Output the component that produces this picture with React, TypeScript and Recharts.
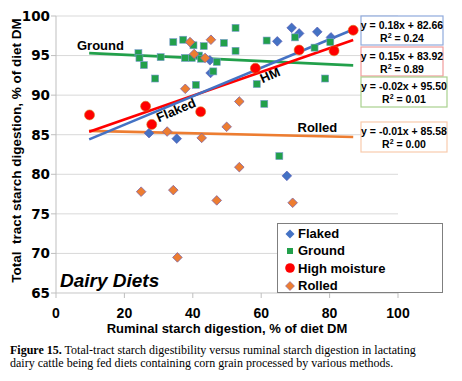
import React from 'react';
import {
  ScatterChart,
  Scatter,
  XAxis,
  YAxis,
  CartesianGrid,
  ReferenceLine,
  Legend,
  Customized,
} from 'recharts';

// ---- data ----
const flakedX = [27.2, 35.3, 45.0, 45.2, 64.7, 67.5, 68.9, 71.1, 76.4, 80.4];
const flakedY = [85.2, 84.5, 94.4, 92.8, 96.8, 79.8, 98.5, 97.8, 98.0, 97.3];

const groundX = [24.1, 24.4, 25.7, 29.0, 30.6, 34.3, 37.2, 37.7, 39.7, 40.2, 40.9, 41.8, 42.4, 43.2, 46.0, 47.0, 49.1, 52.5, 52.5, 58.7, 60.9, 61.6, 65.3, 69.9, 75.6, 78.7, 80.2];
const groundY = [95.3, 94.7, 93.8, 92.1, 94.8, 96.7, 97.0, 94.7, 94.7, 96.3, 91.3, 95.0, 94.6, 96.2, 93.0, 94.2, 96.6, 98.5, 95.6, 91.4, 88.9, 96.9, 82.3, 97.3, 96.0, 92.1, 96.7];

const hmX = [9.8, 26.2, 28.0, 42.3, 58.3, 71.1, 81.3, 86.9];
const hmY = [87.5, 88.6, 86.3, 87.9, 93.4, 95.7, 95.6, 98.2];

const rolledX = [24.9, 32.5, 34.3, 35.5, 37.8, 39.2, 40.4, 42.6, 43.6, 45.3, 47.0, 49.9, 53.6, 53.6, 69.2];
const rolledY = [77.8, 85.4, 78.0, 69.5, 90.8, 96.7, 95.2, 84.6, 94.7, 97.0, 76.7, 86.0, 89.2, 80.9, 76.4];

const seriesNames = ['Flaked', 'Ground', 'High moisture', 'Rolled'];
const trendSlopes = [0.18, 0.15, -0.02, -0.01];
const trendIntercepts = [82.66, 83.92, 95.5, 85.58];
const trendSlopeLabels = ['0.18', '0.15', '-0.02', '-0.01'];
const trendInterceptLabels = ['82.66', '83.92', '95.50', '85.58'];
const trendR2 = ['0.24', '0.89', '0.01', '0.00'];
const trendXStart = 9.7;
const trendXEnd = 86.9;

const xTicks = [0, 20, 40, 60, 80, 100];
const yTicks = [65, 70, 75, 80, 85, 90, 95, 100];

const caption1 = 'Total-tract starch digestibility versus ruminal starch digestion in lactating';
const caption2 = 'dairy cattle being fed diets containing corn grain processed by various methods.';

// ---- styles ----
const SANS = '"Liberation Sans", Arial, sans-serif';
const BLUE = '#4472C4';
const RED = '#FF0000';
const GREEN = '#22A04B';
const ORANGE = '#ED7D31';

const toPoints = (xs: number[], ys: number[]) => xs.map((x, i) => ({ x, y: ys[i] }));

const flakedData = toPoints(flakedX, flakedY);
const groundData = toPoints(groundX, groundY);
const hmData = toPoints(hmX, hmY);
const rolledData = toPoints(rolledX, rolledY);

const diamondPath = (cx: number, cy: number, r: number) =>
  `M${cx},${cy - r}L${cx + r},${cy}L${cx},${cy + r}L${cx - r},${cy}Z`;

const blueDiamond = (p: any) =>
  p.cx == null ? null : (
    <path d={diamondPath(p.cx, p.cy, 4.8)} fill={BLUE} stroke="#5b5fb5" strokeWidth={0.7} />
  );
const orangeDiamond = (p: any) =>
  p.cx == null ? null : (
    <path d={diamondPath(p.cx, p.cy, 4.8)} fill={ORANGE} stroke="#8064A2" strokeWidth={0.8} />
  );
const greenSquare = (p: any) =>
  p.cx == null ? null : (
    <rect x={p.cx - 3.5} y={p.cy - 3.5} width={7} height={7} fill={GREEN} stroke="#7a9bd0" strokeWidth={0.6} />
  );
const redCircle = (p: any) =>
  p.cx == null ? null : <circle cx={p.cx} cy={p.cy} r={5} fill={RED} stroke="#d07a20" strokeWidth={0.6} />;

const legendIcons = [
  <path key="f" d={diamondPath(6, 6, 4.5)} fill={BLUE} />,
  <rect key="g" x={3} y={3} width={6} height={6} fill={GREEN} />,
  <circle key="h" cx={6} cy={6} r={4.8} fill={RED} />,
  <path key="r" d={diamondPath(6, 6, 4.5)} fill={ORANGE} stroke="#8064A2" strokeWidth={0.6} />,
];

const LegendBox = () => (
  <div
    style={{
      width: 166,
      height: 70,
      boxSizing: 'border-box',
      border: '1px solid #7f7f7f',
      background: '#fff',
      paddingTop: 1,
    }}
  >
    {seriesNames.map((n, i) => (
      <div key={n} style={{ height: 17.3, display: 'flex', alignItems: 'center' }}>
        <svg width={12} height={12} style={{ marginLeft: 6, display: 'block' }}>
          {legendIcons[i]}
        </svg>
        <span
          style={{
            marginLeft: 2,
            fontFamily: SANS,
            fontWeight: 'bold',
            fontSize: 13,
            color: '#000',
            lineHeight: '13px',
            whiteSpace: 'nowrap',
          }}
        >
          {n}
        </span>
      </div>
    ))}
  </div>
);

const boxBorders = ['#8faadc', '#f19c9c', '#a9d18e', '#f8cbad'];
const boxRects = [
  { x: 361, y: 16, w: 82, h: 29 },
  { x: 361, y: 47, w: 82, h: 29 },
  { x: 361, y: 77, w: 86, h: 30 },
  { x: 361, y: 122, w: 86, h: 30 },
];

const Annotations = () => (
  <g>
    {boxRects.map((b, i) => (
      <g key={i}>
        <rect x={b.x} y={b.y} width={b.w} height={b.h} fill="#fff" stroke={boxBorders[i]} strokeWidth={1.2} />
        <text
          x={b.x + b.w / 2}
          y={b.y + 13}
          textAnchor="middle"
          fontFamily={SANS}
          fontWeight="bold"
          fontSize={10.5}
          fill="#000"
        >
          {`y = ${trendSlopeLabels[i]}x + ${trendInterceptLabels[i]}`}
        </text>
        <text
          x={b.x + b.w / 2}
          y={b.y + 26}
          textAnchor="middle"
          fontFamily={SANS}
          fontWeight="bold"
          fontSize={10.5}
          fill="#000"
        >
          R<tspan fontSize={7} dy={-4}>2</tspan>
          <tspan dy={4}>{` = ${trendR2[i]}`}</tspan>
        </text>
      </g>
    ))}
    <text x={77} y={50} fontFamily={SANS} fontWeight="bold" fontSize={13} fill="#000">
      Ground
    </text>
    <text
      x={0}
      y={0}
      transform="translate(176,110) rotate(-23)"
      textAnchor="middle"
      dominantBaseline="central"
      fontFamily={SANS}
      fontWeight="bold"
      fontSize={13}
      fill="#000"
    >
      Flaked
    </text>
    <text
      x={0}
      y={0}
      transform="translate(270,75) rotate(-24)"
      textAnchor="middle"
      dominantBaseline="central"
      fontFamily={SANS}
      fontWeight="bold"
      fontSize={13}
      fill="#000"
    >
      HM
    </text>
    <text x={297.5} y={131.5} fontFamily={SANS} fontWeight="bold" fontSize={13} fill="#000">
      Rolled
    </text>
    <text x={60} y={287} fontFamily={SANS} fontWeight="bold" fontStyle="italic" fontSize={19} fill="#000">
      Dairy Diets
    </text>
    <text
      x={0}
      y={0}
      transform="translate(16,150.5) rotate(-90)"
      textAnchor="middle"
      dominantBaseline="central"
      fontFamily={SANS}
      fontWeight="bold"
      fontSize={13.5}
      fill="#000"
      style={{ whiteSpace: 'pre' }}
    >
      {'Total  tract starch digestion, % of diet DM'}
    </text>
    <text x={227} y={333} textAnchor="middle" fontFamily={SANS} fontWeight="bold" fontSize={13} fill="#000">
      Ruminal starch digestion, % of diet DM
    </text>
  </g>
);

const trendColors = [BLUE, RED, GREEN, ORANGE];
const trendOrder = [2, 3, 1, 0];

export default function App() {
  return (
    <div style={{ position: 'absolute', left: 0, top: 0, width: 462, height: 381, background: '#fff' }}>
      <ScatterChart width={462} height={340} margin={{ top: 16, right: 64, bottom: 0, left: 0 }}>
        <CartesianGrid vertical={false} stroke="#d9d9d9" strokeWidth={1} />
        <XAxis
          type="number"
          dataKey="x"
          domain={[0, 100]}
          ticks={xTicks}
          height={47}
          axisLine={{ stroke: '#d9d9d9' }}
          tickLine={{ stroke: '#bfbfbf' }}
          tickSize={5}
          tickMargin={10}
          tick={{ fontFamily: SANS, fontWeight: 'bold', fontSize: 14, fill: '#000' }}
        />
        <YAxis
          type="number"
          dataKey="y"
          domain={[65, 100]}
          ticks={yTicks}
          width={56}
          axisLine={{ stroke: '#bfbfbf' }}
          tickLine={{ stroke: '#bfbfbf' }}
          tickSize={5}
          tickMargin={1}
          tick={{ fontFamily: '"DejaVu Sans", sans-serif', fontWeight: 'bold', fontSize: 13.5, fill: '#000' }}
        />
        <Scatter name={seriesNames[0]} data={flakedData} shape={blueDiamond} isAnimationActive={false} />
        <Scatter name={seriesNames[1]} data={groundData} shape={greenSquare} isAnimationActive={false} />
        <Scatter name={seriesNames[2]} data={hmData} shape={redCircle} isAnimationActive={false} />
        <Scatter name={seriesNames[3]} data={rolledData} shape={orangeDiamond} isAnimationActive={false} />
        {trendOrder.map((i) => (
          <ReferenceLine
            key={i}
            segment={[
              { x: trendXStart, y: trendSlopes[i] * trendXStart + trendIntercepts[i] },
              { x: trendXEnd, y: trendSlopes[i] * trendXEnd + trendIntercepts[i] },
            ]}
            stroke={trendColors[i]}
            strokeWidth={2.6}
            ifOverflow="visible"
          />
        ))}
        <Customized component={Annotations} />
        <Legend
          layout="vertical"
          align="center"
          verticalAlign="middle"
          wrapperStyle={{ left: 277, top: 223, width: 166, height: 70 }}
          content={() => <LegendBox />}
        />
      </ScatterChart>
      <div
        style={{
          position: 'absolute',
          left: 10,
          top: 344,
          fontFamily: '"Liberation Serif", "DejaVu Serif", serif',
          fontSize: 12,
          lineHeight: '13px',
          color: '#000',
          whiteSpace: 'nowrap',
        }}
      >
        <div>
          <b>Figure 15.</b> {caption1}
        </div>
        <div>{caption2}</div>
      </div>
    </div>
  );
}
